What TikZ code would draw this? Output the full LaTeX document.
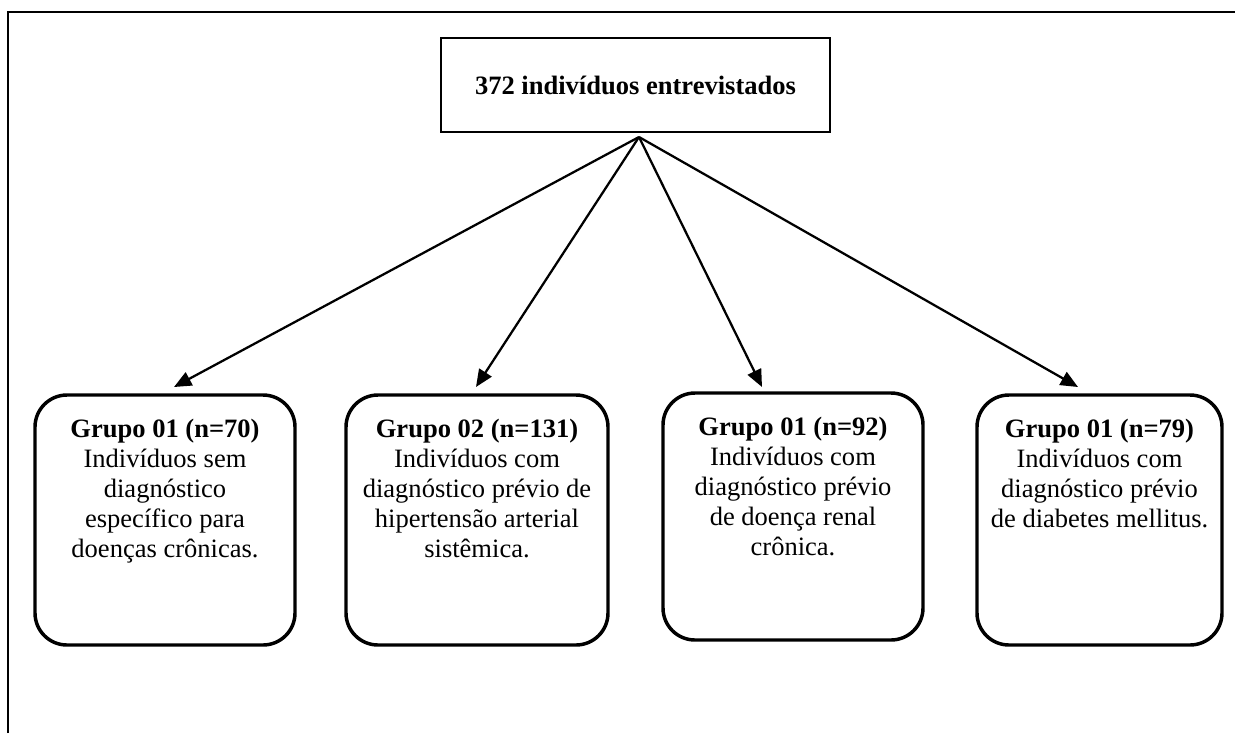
\documentclass[tikz,border=0pt]{standalone}
\usepackage{fontspec}
\setmainfont{Liberation Serif}
\usetikzlibrary{arrows.meta}
\tikzset{
  frameline/.style={line width=1.6pt},
  topbox/.style={draw, line width=1.7pt, rectangle, inner sep=0pt, minimum width=291.75pt, minimum height=70.5pt,
    font=\fontsize{19.9pt}{22.3pt}\selectfont\bfseries},
  gbox/.style={draw, line width=2.6pt, rounded corners=24pt, rectangle, inner sep=0pt, minimum height=187.5pt},
  gtext/.style={anchor=north, align=center, inner sep=0pt, font=\fontsize{19.9pt}{22.4pt}\selectfont},
  link/.style={line width=1.7pt, -{Triangle[length=13pt,width=11pt]}}
}
\begin{document}
\begin{tikzpicture}[x=0.75pt,y=-0.75pt]
\useasboundingbox (0,0) rectangle (1235,733);
% outer frame
\draw[frameline] (8,733) -- (8,12) -- (1235,12);
% top node
\node[topbox] (top) at (635.5,85) {372 indivíduos entrevistados};
% group boxes
\node[gbox, minimum width=195pt] (g1) at (165,520) {};
\node[gbox, minimum width=196.5pt] (g2) at (477,520) {};
\node[gbox, minimum width=195pt, minimum height=185.25pt] (g3) at (793,516.5) {};
\node[gbox, minimum width=183.75pt] (g4) at (1099.5,520) {};
% texts
\node[gtext] (t1) at (165,419) {\textbf{Grupo 01 (n=70)}\\Indivíduos sem\\diagnóstico\\específico para\\doenças crônicas.};
\node[gtext] (t2) at (477,419) {\textbf{Grupo 02 (n=131)}\\Indivíduos com\\diagnóstico prévio de\\hipertensão arterial\\sistêmica.};
\node[gtext] (t3) at (793,417) {\textbf{Grupo 01 (n=92)}\\Indivíduos com\\diagnóstico prévio\\de doença renal\\crônica.};
\node[gtext] (t4) at (1099.5,419) {\textbf{Grupo 01 (n=79)}\\Indivíduos com\\diagnóstico prévio\\de diabetes mellitus.};
% connector points
\coordinate (o) at (639,137);
\coordinate (e1) at (174,387);
\coordinate (e2) at (476,387);
\coordinate (e3) at (762,387);
\coordinate (e4) at (1078,387);
\draw[link] (o) -- (e1);
\draw[link] (o) -- (e2);
\draw[link] (o) -- (e3);
\draw[link] (o) -- (e4);
\end{tikzpicture}
\end{document}
